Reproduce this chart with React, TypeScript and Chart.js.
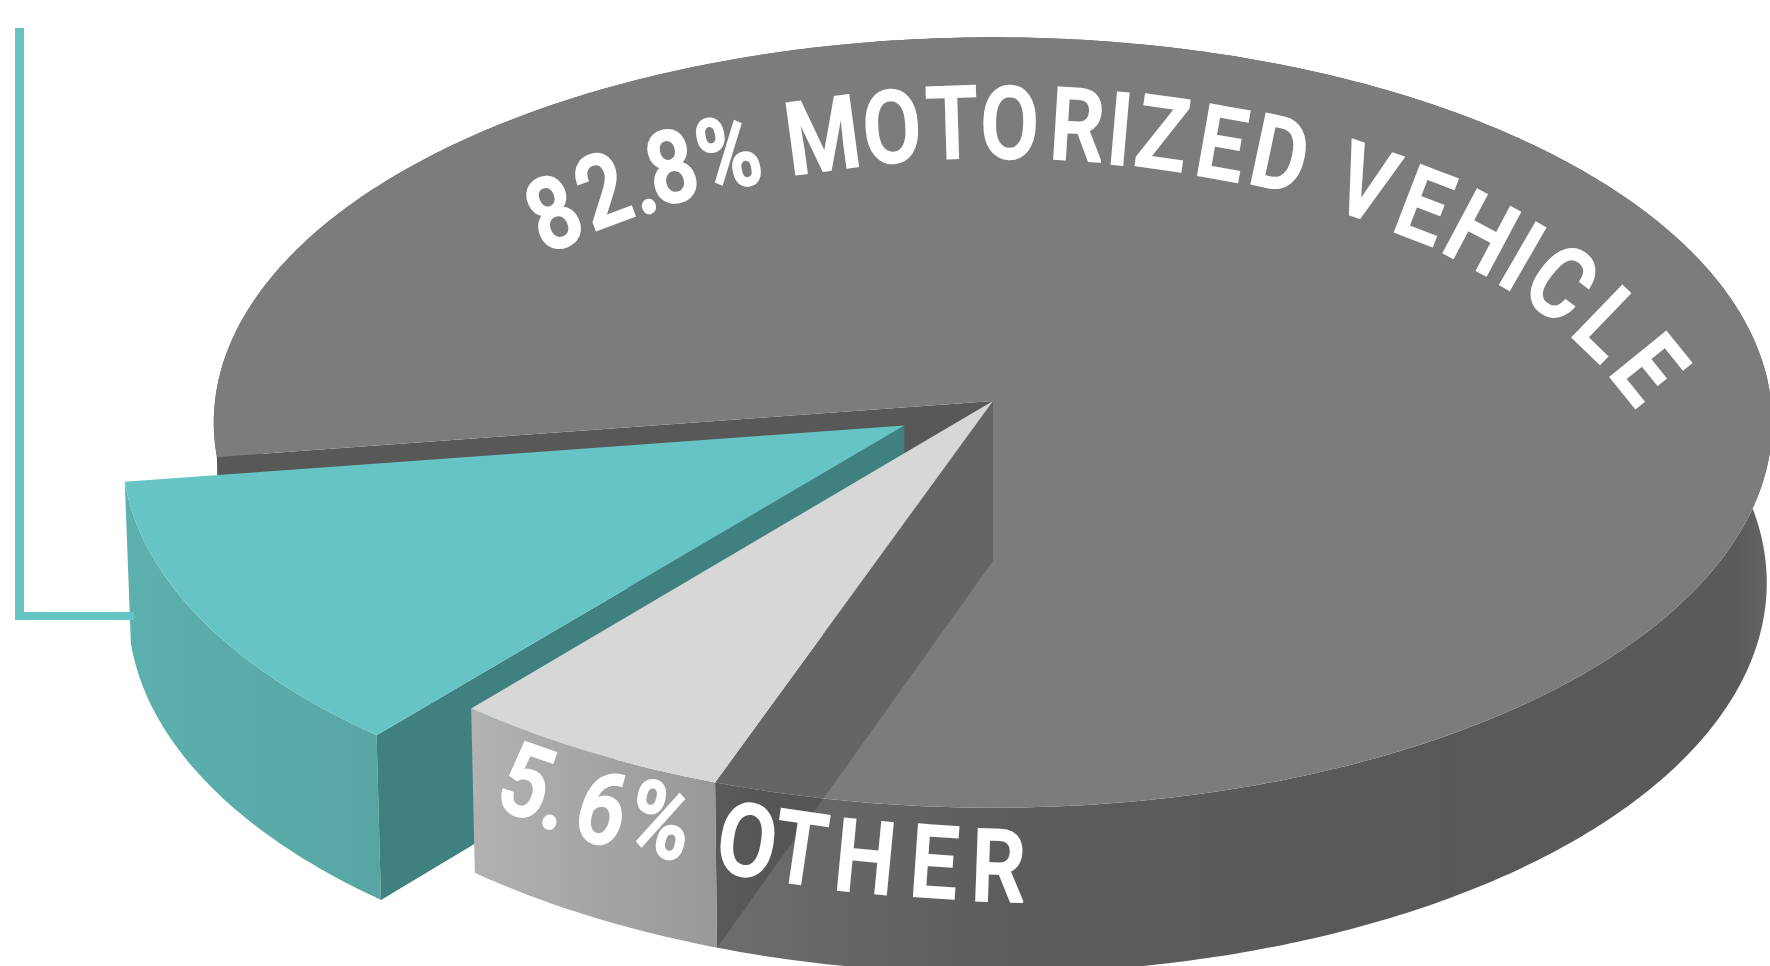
import React, { useEffect, useRef } from "react";
import { Chart, registerables } from "chart.js";

Chart.register(...registerables);

// ---- data -------------------------------------------------------------
const categories = ["Motorized vehicle", "Other", "Highlighted share"];
const shares = [82.8, 5.6, 11.6];
const topColors = ["#7c7c7c", "#d7d7d7", "#66c5c4"];
const explode = [0, 0, 208];
const startRotation = 261.7;

// curved labels: [character, baseline x, baseline y, angle in degrees]
const motorizedLabel: [string, number, number, number][] = [
  ["8", 567, 246, -23], ["2", 615, 224, -20.5], [".", 651, 213, -17], ["8", 680, 202, -14],
  ["%", 735, 188, -11], ["M", 827, 171, -7.7], ["O", 894, 163, -3.5], ["T", 953, 159, -1.8],
  ["O", 1009, 159, 1], ["R", 1075, 161, 3.5], ["I", 1117, 165, 5], ["Z", 1158, 169, 8],
  ["E", 1216, 179, 10], ["D", 1273, 189, 12], ["V", 1355, 217, 19], ["E", 1412, 239, 21],
  ["H", 1465, 265, 28], ["I", 1505, 288, 30], ["C", 1540, 311, 38], ["L", 1585, 350, 44],
  ["E", 1622, 392, 51],
];
const otherLabel: [string, number, number, number][] = [
  ["5", 515, 815, 19], [".", 548, 829, 17], ["6", 593, 843, 16], ["%", 652, 855, 14],
  ["O", 742, 876, 9], ["T", 795, 884, 8.4], ["H", 862, 893, 5.5], ["E", 932, 898, 4], ["R", 997, 902, 2],
];

// ---- projection of the flat pie onto the tilted disc ---------------------
const CX = 993, CY = 401, RX = 778, RY = 384, DEPTH = 160, PERSP = 17.9;

function project(u: number, v: number, dz: number): [number, number] {
  const w = PERSP / (PERSP - v);
  return [CX + RX * u * w * (1 - 0.007 * dz), CY + RY * v * w + DEPTH * Math.pow(w, 0.6) * dz];
}

function arcGeom(arc: any) {
  const p = arc.getProps(["startAngle", "endAngle", "outerRadius"], true);
  const mid = (p.startAngle + p.endAngle) / 2;
  const e = ((arc.options.offset || 0) / 4) / p.outerRadius;
  const ox = Math.cos(mid) * e, oy = Math.sin(mid) * e;
  return { start: p.startAngle, end: p.endAngle, ox, oy };
}

function rimPoints(g: any, dz: number) {
  const pts: [number, number][] = [];
  const n = Math.ceil((g.end - g.start) / 0.01);
  for (let i = 0; i <= n; i++) {
    const a = g.start + ((g.end - g.start) * i) / n;
    pts.push(project(Math.cos(a) + g.ox, Math.sin(a) + g.oy, dz));
  }
  return pts;
}

function poly(ctx: CanvasRenderingContext2D, pts: [number, number][], fill: any) {
  ctx.beginPath();
  pts.forEach((p, i) => (i ? ctx.lineTo(p[0], p[1]) : ctx.moveTo(p[0], p[1])));
  ctx.closePath();
  ctx.fillStyle = fill;
  ctx.fill();
}

function top(ctx: CanvasRenderingContext2D, g: any, fill: string) {
  poly(ctx, [project(g.ox, g.oy, 0), ...rimPoints(g, 0)], fill);
}
function outerWall(ctx: CanvasRenderingContext2D, g: any, fill: any) {
  poly(ctx, [...rimPoints(g, 0), ...rimPoints(g, 1).reverse()], fill);
}
function edgeWall(ctx: CanvasRenderingContext2D, g: any, a: number, fill: any) {
  const rim = [Math.cos(a) + g.ox, Math.sin(a) + g.oy];
  poly(ctx, [project(g.ox, g.oy, 0), project(rim[0], rim[1], 0), project(rim[0], rim[1], 1), project(g.ox, g.oy, 1)], fill);
}
function hGrad(ctx: CanvasRenderingContext2D, x0: number, x1: number, stops: [number, string][]) {
  const gr = ctx.createLinearGradient(x0, 0, x1, 0);
  stops.forEach(([o, c]) => gr.addColorStop(o, c));
  return gr;
}

function drawGlyphs(ctx: CanvasRenderingContext2D, glyphs: [string, number, number, number][]) {
  ctx.fillStyle = "#ffffff";
  ctx.strokeStyle = "#ffffff";
  ctx.lineWidth = 2.6;
  ctx.lineJoin = "miter";
  ctx.miterLimit = 3;
  ctx.font = '500 100px Roboto';
  ctx.textAlign = "center";
  ctx.textBaseline = "alphabetic";
  for (const [ch, x, y, deg] of glyphs) {
    ctx.save();
    ctx.translate(x, y - 1);
    ctx.rotate((deg * Math.PI) / 180);
    ctx.scale(0.85, 1);
    ctx.fillText(ch, 0, 0);
    ctx.strokeText(ch, 0, 0);
    ctx.restore();
  }
}

const tiltedPie = {
  id: "tiltedPie",
  beforeDatasetDraw(chart: any, args: any) {
    const ctx: CanvasRenderingContext2D = chart.ctx;
    const arcs = args.meta.data;
    const [gMain, gOther, gTeal] = arcs.map(arcGeom);
    const colors = chart.data.datasets[0].backgroundColor;
    ctx.save();

    // motorized walls
    outerWall(ctx, gMain, hGrad(ctx, 700, 1770, [[0, "#6e6e6e"], [0.3, "#5c5c5c"], [0.7, "#585858"], [0.97, "#5a5a5a"], [1, "#666666"]]));
    edgeWall(ctx, gMain, gMain.start, "#595858");

    // teal wedge
    outerWall(ctx, gTeal, hGrad(ctx, 125, 480, [[0, "#5cb0ae"], [1, "#56a29f"]]));
    edgeWall(ctx, gTeal, gTeal.start, "#3f8080");
    top(ctx, gTeal, colors[2]);

    // motorized top, then the translucent wall of the missing wedge
    top(ctx, gMain, colors[0]);
    edgeWall(ctx, gOther, gOther.start, "rgba(0,0,0,0.18)");

    // other wedge
    outerWall(ctx, gOther, hGrad(ctx, 473, 718, [[0, "#b2b2b2"], [1, "#989898"]]));
    top(ctx, gOther, colors[1]);

    // callout rule
    ctx.fillStyle = colors[2];
    ctx.fillRect(15, 28, 9, 592);
    ctx.fillRect(15, 612, 119, 8);

    drawGlyphs(ctx, motorizedLabel);
    drawGlyphs(ctx, otherLabel);
    ctx.restore();
    return false;
  },
};

export default function App() {
  const ref = useRef<HTMLCanvasElement>(null);
  useEffect(() => {
    const chart = new Chart(ref.current!, {
      type: "pie",
      data: {
        labels: categories,
        datasets: [{ data: shares, backgroundColor: topColors, offset: explode, borderWidth: 0 }],
      },
      options: {
        animation: false,
        responsive: false,
        rotation: startRotation,
        radius: 400,
        plugins: { legend: { display: false }, tooltip: { enabled: false } },
      },
      plugins: [tiltedPie],
    } as any);
    return () => chart.destroy();
  }, []);
  return (
    <div style={{ position: "fixed", left: 0, top: 0, width: 1770, height: 966, background: "#fff" }}>
      <canvas ref={ref} width={1770} height={966} style={{ display: "block" }} aria-label="82.8% MOTORIZED VEHICLE, 5.6% OTHER" />
    </div>
  );
}
